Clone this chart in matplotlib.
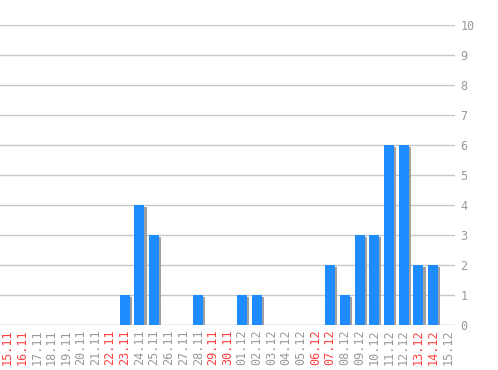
import matplotlib
matplotlib.use("Agg")
import matplotlib.pyplot as plt
import matplotlib.patheffects as pe

dates = ["15.11","16.11","17.11","18.11","19.11","20.11","21.11","22.11","23.11","24.11",
         "25.11","26.11","27.11","28.11","29.11","30.11","01.12","02.12","03.12","04.12",
         "05.12","06.12","07.12","08.12","09.12","10.12","11.12","12.12","13.12","14.12","15.12"]
values = [0,0,0,0,0,0,0,0,1,4,
          3,0,0,1,0,0,1,1,0,0,
          0,0,2,1,3,3,6,6,2,2,0]
weekend = {"15.11","16.11","22.11","23.11","29.11","30.11","06.12","07.12","13.12","14.12"}
yticks = list(range(0, 11))

fig = plt.figure(figsize=(4.98, 3.70), dpi=100)
ax = fig.add_axes([0, 45/370, 455/498, 300/370])
x = list(range(len(dates)))
ax.set_xlim(-0.5, len(dates) - 0.5)
ax.set_ylim(0, 10)
for y in yticks:
    ax.axhline(y, color="#c8c8c8" if y else "#a8a8a8", lw=1, zorder=0)
ax.bar(x, values, width=0.68, color="#1e8cff", zorder=3,
       path_effects=[pe.SimplePatchShadow(offset=(1.6, -1.4), shadow_rgbFace="#a0a0a0", alpha=1.0), pe.Normal()])
for s in ax.spines.values():
    s.set_visible(False)
ax.yaxis.tick_right()
ax.set_yticks(yticks)
ax.set_yticklabels([str(v) for v in yticks], family="DejaVu Sans Mono", fontsize=8.5, color="#999999")
ax.tick_params(axis="y", length=0, pad=4)
ax.set_xticks(x)
ax.set_xticklabels(dates, rotation=90, family="DejaVu Sans Mono", fontsize=8.5)
for lbl, d in zip(ax.get_xticklabels(), dates):
    lbl.set_color("#ff4040" if d in weekend else "#999999")
ax.tick_params(axis="x", length=0, pad=3)
fig.savefig("out.png", dpi=100)
